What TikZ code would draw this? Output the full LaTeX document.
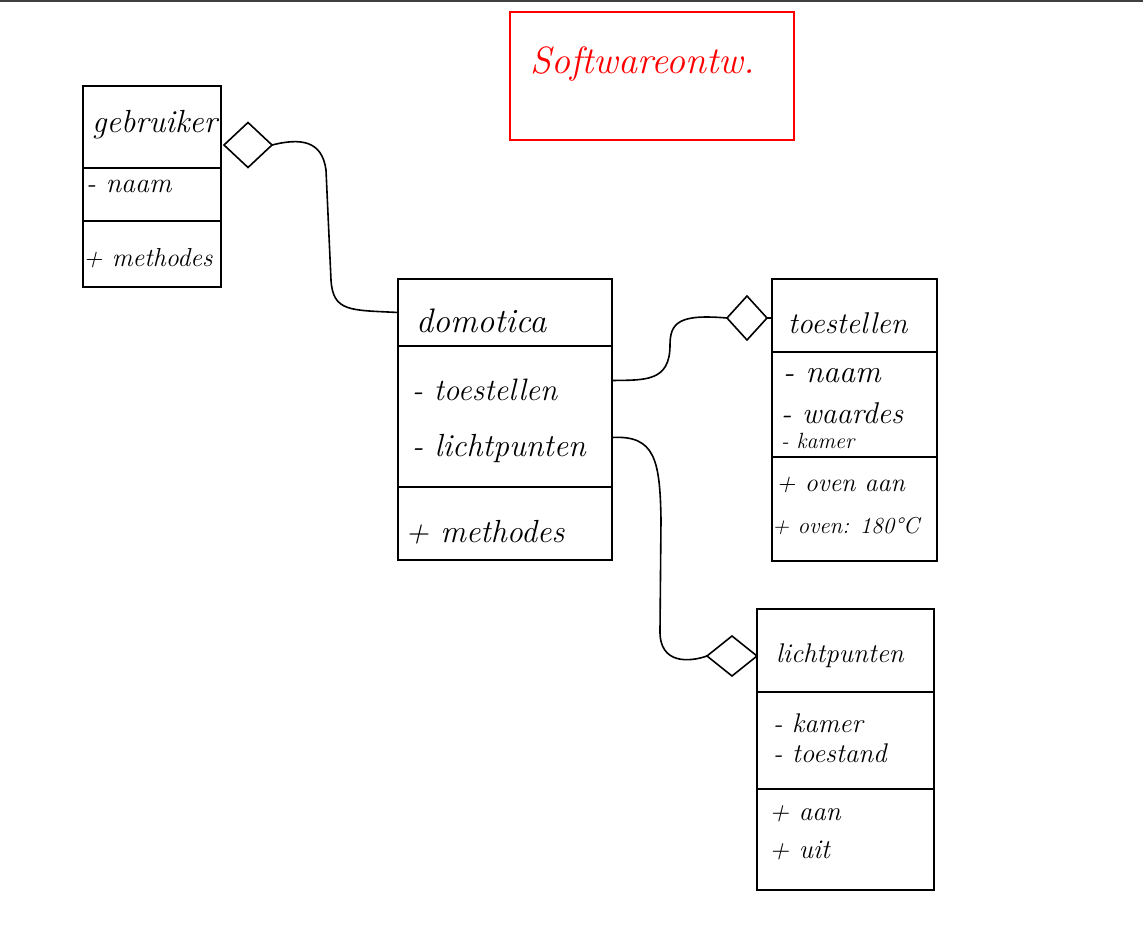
\documentclass[tikz,border=0pt]{standalone}
\usepackage{fontspec}
\usetikzlibrary{shapes.geometric}
\begin{document}
\begin{tikzpicture}[x=1pt,y=-1pt,
  box/.style={draw, line width=1.8pt, inner sep=0pt, outer sep=0pt, anchor=north west},
  dia/.style={draw, diamond, line width=1.6pt, inner sep=0pt, outer sep=0pt},
  conn/.style={line width=1.6pt},
  hw/.style={anchor=base west, inner sep=0pt, font=\itshape\fontsize{#1}{#1}\selectfont},
  hw/.default=28
]
\useasboundingbox (0,0) rectangle (1143,931);
\fill[white] (0,0) rectangle (1143,931);
\fill[black!75] (0,0) rectangle (1143,2);

% title
\node[box, draw=red, line width=1.6pt, minimum width=284pt, minimum height=128pt] (title) at (510,12) {};
\node[hw=38, text=red] (titletext) at (530,74) {Softwareontw.};

% gebruiker
\node[box, line width=2.2pt, minimum width=138pt, minimum height=82pt] (gtop) at (83,86) {};
\node[box, minimum width=138pt, minimum height=53pt] (gmid) at (83,168) {};
\node[box, minimum width=138pt, minimum height=66pt] (gbot) at (83,221) {};
\node[hw=32] (gname) at (92,132) {gebruiker};
\node[hw=28] (gattr) at (86,192) {- naam};
\node[hw=26] (gmeth) at (83,266) {+ methodes};

% domotica
\node[box, minimum width=214pt, minimum height=67pt] (dtop) at (398,279) {};
\node[box, line width=2.2pt, minimum width=214pt, minimum height=141pt] (dmid) at (398,346) {};
\node[box, minimum width=214pt, minimum height=73pt] (dbot) at (398,487) {};
\node[hw=34] (dname) at (416,332) {domotica};
\node[hw=31] (dattr1) at (412,400) {- toestellen};
\node[hw=32] (dattr2) at (412,456) {- lichtpunten};
\node[hw=32] (dmeth) at (405,542) {+ methodes};

% toestellen
\node[box, minimum width=165pt, minimum height=73pt] (ttop) at (772,279) {};
\node[box, minimum width=165pt, minimum height=105pt] (tmid) at (772,352) {};
\node[box, minimum width=165pt, minimum height=104pt] (tbot) at (772,457) {};
\node[hw=30] (tname) at (788,333) {toestellen};
\node[hw=32] (tattr1) at (783,382) {- naam};
\node[hw=30] (tattr2) at (781,423) {- waardes};
\node[hw=22] (tattr3) at (781,448) {- kamer};
\node[hw=26] (tmeth1) at (776,491) {+ oven aan};
\node[hw=23] (tmeth2) at (772,533) {+ oven: 180°C};

% lichtpunten
\node[box, minimum width=177pt, minimum height=83pt] (ltop) at (757,609) {};
\node[box, line width=2.2pt, minimum width=177pt, minimum height=97pt] (lmid) at (757,692) {};
\node[box, minimum width=177pt, minimum height=101pt] (lbot) at (757,789) {};
\node[hw=27] (lname) at (776,662) {lichtpunten};
\node[hw=27] (lattr1) at (773,732) {- kamer};
\node[hw=27] (lattr2) at (773,762) {- toestand};
\node[hw=27] (lmeth1) at (769,820) {+ aan};
\node[hw=27] (lmeth2) at (769,858) {+ uit};

% diamonds
\node[dia, minimum width=48pt, minimum height=45pt] (dg) at (248,145) {};
\node[dia, minimum width=40pt, minimum height=44pt] (dt) at (747,318) {};
\node[dia, minimum width=50pt, minimum height=40pt] (dl) at (732,656) {};

% connectors
\draw[conn] (dg.east) .. controls (300,138) and (322,140) .. (326,170)
  -- (331,280) .. controls (333,312) and (350,310) .. (dtop.west);
\draw[conn] (dt.east) -- (ttop.west |- dt.east);
\draw[conn] (dt.west) .. controls (680,314) and (670,322) .. (670,345)
  .. controls (670,382) and (645,380) .. ([yshift=36pt]dmid.east);
\draw[conn] ([yshift=-21pt]dmid.east) .. controls (655,435) and (660,460) .. (661,520)
  -- (660,630) .. controls (659,665) and (690,662) .. (dl.west);
\end{tikzpicture}
\end{document}
